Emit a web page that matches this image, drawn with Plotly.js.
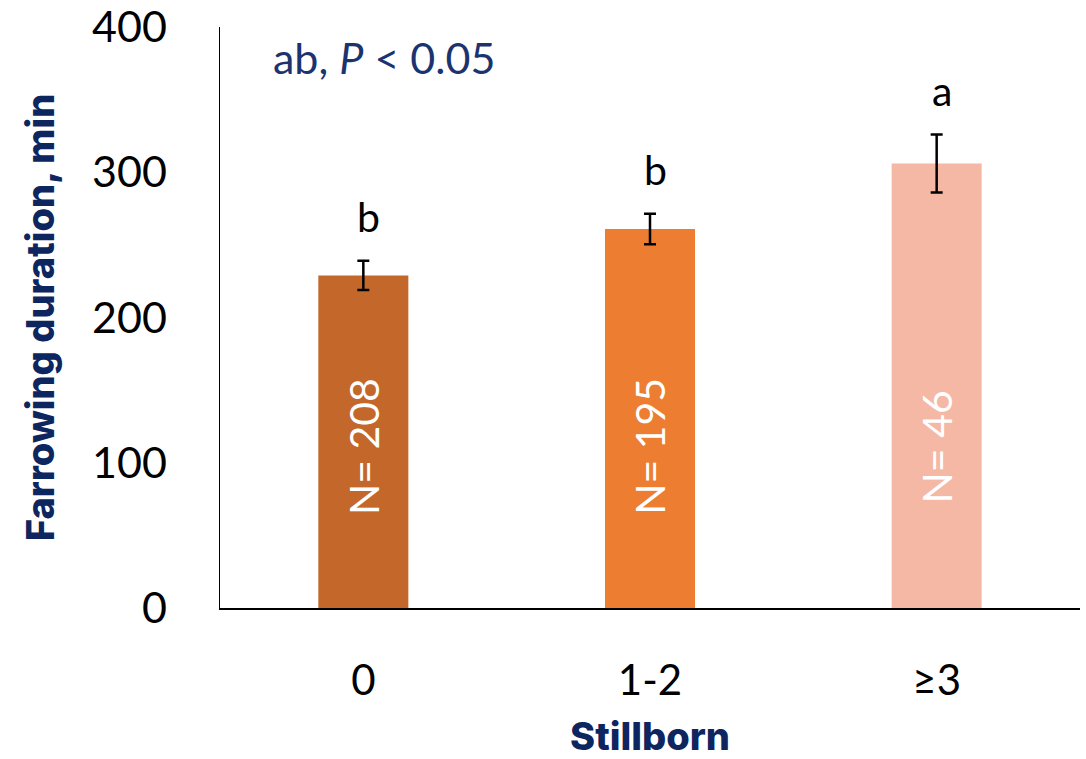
<!DOCTYPE html>
<html>
<head>
<meta charset="utf-8">
<script src="https://cdn.plot.ly/plotly-3.0.1.min.js"></script>
<style>html,body{margin:0;padding:0;background:#fff;}#chart{width:1086px;height:759px;}</style>
</head>
<body>
<div id="chart"></div>
<script>
const categories = ["0", "1-2", "≥3"];
const durations = [229, 261, 306];
const errors = [10, 10.5, 20];
const sampleSizes = ["N= 208", "N= 195", "N= 46"];
const sigLetters = ["b", "b", "a"];
const barColors = ["#C4672A", "#ED7D31", "#F4B8A5"];
const yTicks = [0, 100, 200, 300, 400];

const navy = "#0E2660";
const annotations = [];
categories.forEach((c, i) => {
  annotations.push({
    x: c, y: durations[i] + errors[i], xref: "x", yref: "y",
    text: sigLetters[i], showarrow: false, yanchor: "middle", yshift: 44, xshift: 5,
    font: {family: "Lato, 'Open Sans', sans-serif", size: 41, color: "#000"}
  });
  annotations.push({
    x: c, y: 111, xref: "x", yref: "y",
    text: sampleSizes[i], showarrow: false, textangle: -90,
    font: {family: "Lato, 'Open Sans', sans-serif", size: 41, color: "#FFFFFF"}
  });
});
annotations.push({
  x: 0.059, y: 0.947, xref: "paper", yref: "paper", xanchor: "left", yanchor: "middle",
  text: "ab, <i>P</i> < 0.05", showarrow: false,
  font: {family: "Lato, 'Open Sans', sans-serif", size: 43, color: "#1B3470"}
});

const data = [{
  type: "bar",
  x: categories,
  y: durations,
  width: 0.314,
  marker: {color: barColors},
  error_y: {type: "data", array: errors, visible: true, color: "#000", thickness: 2.5, width: 6},
  hoverinfo: "none"
}];

const layout = {
  width: 1086, height: 759,
  margin: {l: 220, r: 6, t: 27, b: 151},
  paper_bgcolor: "#fff", plot_bgcolor: "#fff",
  showlegend: false,
  xaxis: {
    type: "category",
    range: [-0.5, 2.5],
    showline: true, linecolor: "#000", linewidth: 1.5,
    showgrid: false, ticks: "", zeroline: false,
    ticklabelstandoff: 35,
    tickfont: {family: "Lato, 'Open Sans', sans-serif", size: 42, color: "#000"},
    title: {text: "Stillborn", standoff: 35,
      font: {family: "Inter, 'DejaVu Sans', sans-serif", size: 38, color: navy, weight: 800}}
  },
  yaxis: {
    range: [0, 400],
    tickvals: yTicks,
    showline: true, linecolor: "#000", linewidth: 1.5,
    showgrid: false, zeroline: false, ticks: "",
    ticklabelstandoff: 43,
    tickfont: {family: "Lato, 'Open Sans', sans-serif", size: 43, color: "#000"},
    title: {text: "Farrowing duration, min", standoff: 26,
      font: {family: "Inter, 'DejaVu Sans', sans-serif", size: 38, color: navy, weight: 800}}
  },
  annotations: annotations
};

Plotly.newPlot("chart", data, layout, {staticPlot: true, displayModeBar: false});
</script>
</body>
</html>
